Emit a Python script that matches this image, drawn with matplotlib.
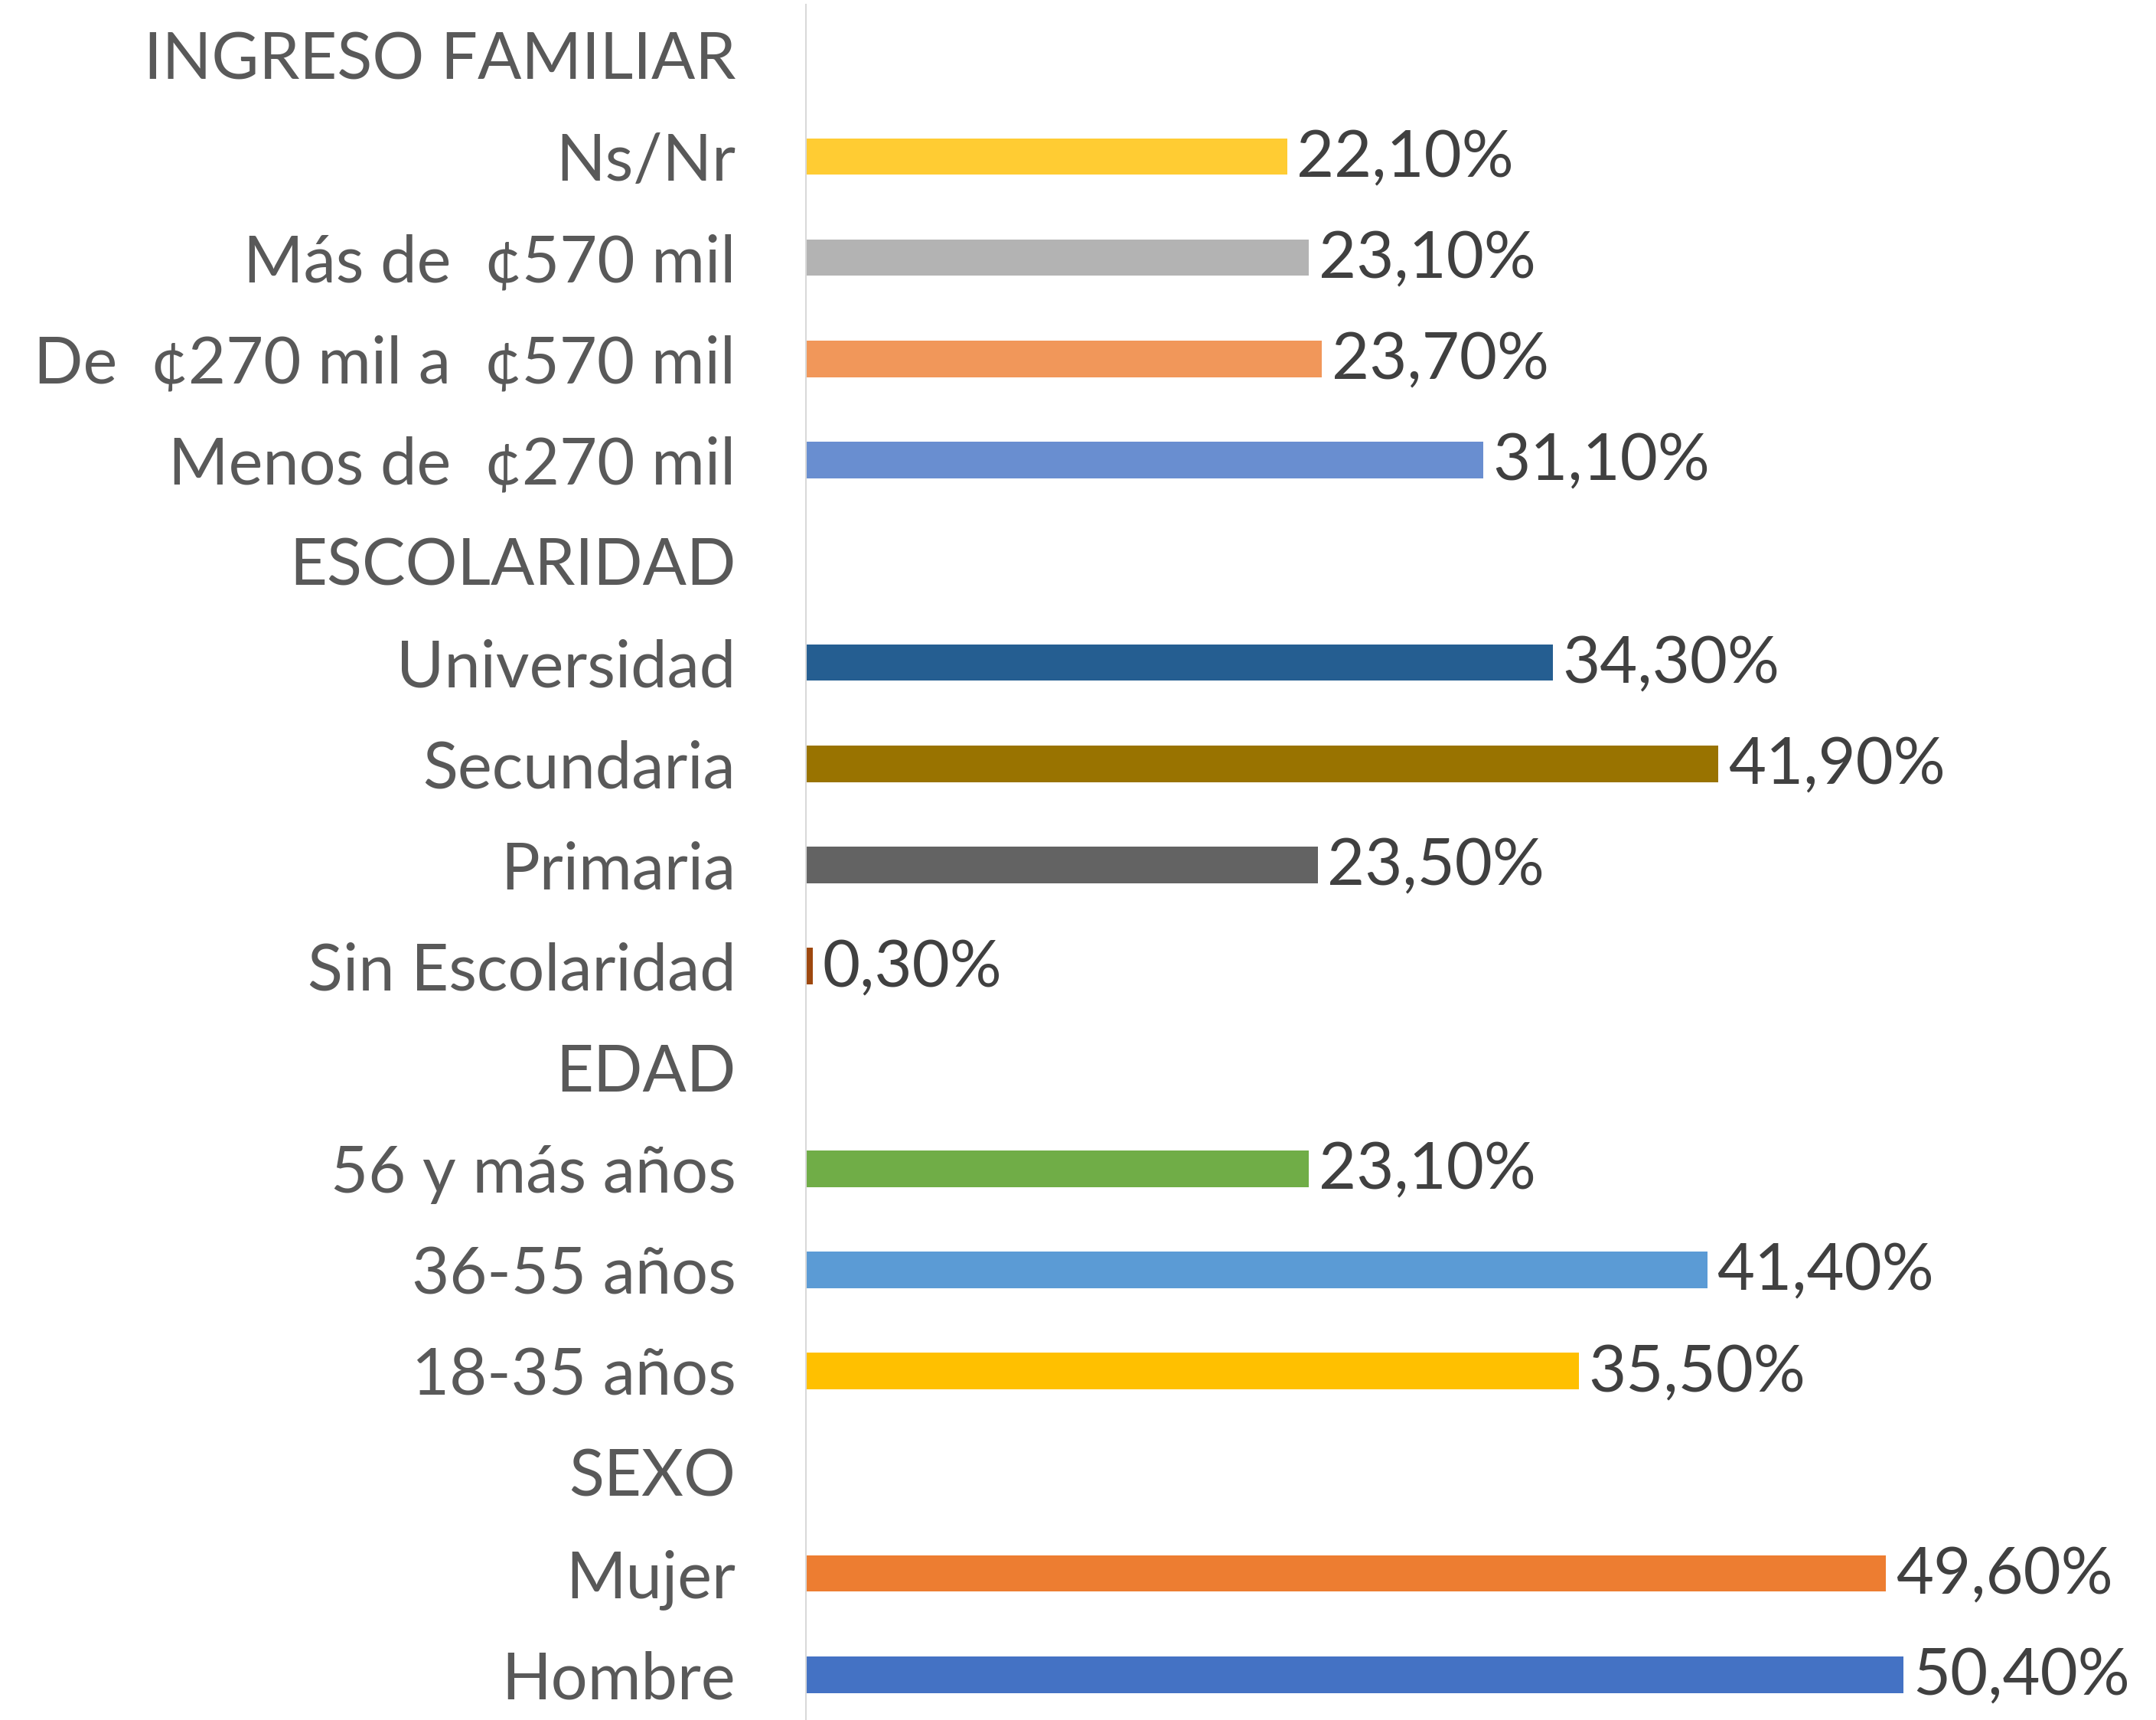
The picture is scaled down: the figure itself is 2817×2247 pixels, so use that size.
import matplotlib
matplotlib.use('Agg')
import matplotlib.pyplot as plt
import numpy as np

# filas de abajo hacia arriba (None = fila de titulo sin barra)
categorias = ['Hombre', 'Mujer', 'SEXO',
              '18-35 años', '36-55 años', '56 y más años', 'EDAD',
              'Sin Escolaridad', 'Primaria', 'Secundaria', 'Universidad', 'ESCOLARIDAD',
              'Menos de  ¢270 mil', 'De  ¢270 mil a  ¢570 mil', 'Más de  ¢570 mil', 'Ns/Nr',
              'INGRESO FAMILIAR']
valores = [50.4, 49.6, None,
           35.5, 41.4, 23.1, None,
           0.3, 23.5, 41.9, 34.3, None,
           31.1, 23.7, 23.1, 22.1,
           None]
colores = ['#4472C4', '#ED7D31', None,
           '#FFC000', '#5B9BD5', '#70AD47', None,
           '#9E480E', '#636363', '#997300', '#255E91', None,
           '#698ED0', '#F1975A', '#B3B3B3', '#FFCC33',
           None]

plt.rcParams['font.family'] = ['Lato', 'DejaVu Sans']

fig = plt.figure(figsize=(28.17, 22.47), dpi=100)
ax = fig.add_axes([0.3738, -0.0031, 0.6262, 1.0004])

y = np.arange(len(categorias))
for i, (v, c) in enumerate(zip(valores, colores)):
    if v is None:
        continue
    ax.barh(y[i], v, height=0.36, color=c)
    ax.annotate(f'{v:.2f}%'.replace('.', ','), xy=(v, y[i]), xytext=(9, -2),
                textcoords='offset points', va='center', ha='left',
                fontsize=61, color='#404040')

ax.set_xlim(0, 62)
ax.set_ylim(-0.5, len(categorias) - 0.5)
ax.set_yticks(y)
ax.set_yticklabels(categorias, fontsize=61, color='#595959')
ax.tick_params(axis='y', length=0, pad=66)
ax.set_xticks([])
for s in ['top', 'right', 'bottom']:
    ax.spines[s].set_visible(False)
ax.spines['left'].set_color('#D9D9D9')
ax.spines['left'].set_linewidth(1.5)

fig.savefig('out.png', dpi=100)
